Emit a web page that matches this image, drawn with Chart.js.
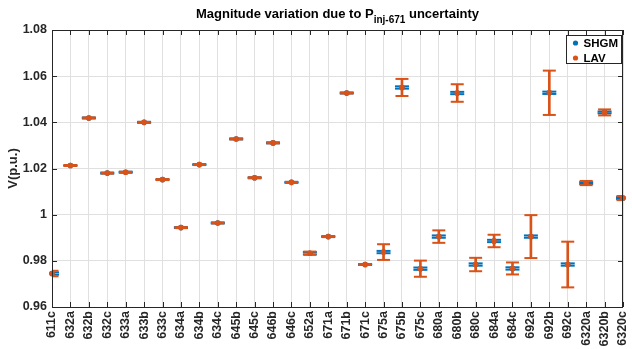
<!DOCTYPE html>
<html>
<head>
<meta charset="utf-8">
<script src="https://cdn.jsdelivr.net/npm/chart.js@4"></script>
<style>
  html, body { margin: 0; padding: 0; background: #fff; }
  #wrap { width: 632px; height: 349px; }
</style>
</head>
<body>
<div id="wrap"><canvas id="chart"></canvas></div>
<script>
const BUSES = ['611c', '632a', '632b', '632c', '633a', '633b', '633c', '634a', '634b', '634c',
    '645b', '645c', '646b', '646c', '652a', '671a', '671b', '671c', '675a', '675b', '675c',
    '680a', '680b', '680c', '684a', '684c', '692a', '692b', '692c', '6320a', '6320b', '6320c'];

// SHGM estimate and its half-width
const SHGM = [0.9745, 1.0213, 1.0419, 1.0180, 1.0184, 1.0400, 1.0152, 0.9944, 1.0217, 0.9964,
    1.0328, 1.0160, 1.0311, 1.0140, 0.9833, 0.9905, 1.0527, 0.9784, 0.9838, 1.0551, 0.9766,
    0.9905, 1.0527, 0.9784, 0.9886, 0.9767, 0.9905, 1.0528, 0.9784, 1.0137, 1.0443, 1.0072];
const SHGM_ERR = [0.0005, 0.0002, 0.0002, 0.0002, 0.0002, 0.0002, 0.0002, 0.0002, 0.0002, 0.0002,
    0.0002, 0.0002, 0.0002, 0.0002, 0.0005, 0.0002, 0.0002, 0.0002, 0.0005, 0.0005, 0.0005,
    0.0005, 0.0005, 0.0005, 0.0005, 0.0005, 0.0005, 0.0005, 0.0005, 0.0004, 0.0004, 0.0004];

// LAV centre and half-width
const LAV = [0.9745, 1.0213, 1.0419, 1.0180, 1.0184, 1.0400, 1.0152, 0.9944, 1.0217, 0.9964,
    1.0328, 1.0160, 1.0311, 1.0140, 0.9833, 0.9905, 1.0527, 0.9784, 0.9838, 1.0551, 0.9766,
    0.9905, 1.0527, 0.9784, 0.9886, 0.9767, 0.9905, 1.0528, 0.9784, 1.0137, 1.0443, 1.0072];
const LAV_ERR = [0.0012, 0.0002, 0.0002, 0.0002, 0.0002, 0.0002, 0.0002, 0.0002, 0.0002, 0.0002,
    0.0002, 0.0002, 0.0002, 0.0002, 0.0007, 0.0002, 0.0002, 0.0002, 0.0034, 0.0037, 0.0035,
    0.0027, 0.0038, 0.0029, 0.0027, 0.0026, 0.0093, 0.0096, 0.0099, 0.0009, 0.0013, 0.0009];

const Y_TICKS = [0.96, 0.98, 1, 1.02, 1.04, 1.06, 1.08];
const Y_TICK_LABELS = ['0.96', '0.98', '1', '1.02', '1.04', '1.06', '1.08'];

const BLUE = '#0072BD';
const ORANGE = '#D95319';
const AXIS = '#262626';
const FONT = '"Liberation Sans", Arial, sans-serif';

const lo = (vals, errs) => vals.map((v, i) => v - errs[i]);
const hi = (vals, errs) => vals.map((v, i) => v + errs[i]);

function capSet(data, color, radius, width, order) {
    return {
        type: 'line', data: data, showLine: false, order: order, clip: 0,
        pointStyle: 'line', pointRadius: radius, pointHoverRadius: radius,
        pointBorderColor: color, pointBorderWidth: width, pointHoverBorderWidth: width
    };
}

// title with subscript, box, inward ticks and the legend
const decor = {
    id: 'decor',
    afterDraw(chart) {
        const ctx = chart.ctx;
        const a = chart.chartArea;
        const x = chart.scales.x, y = chart.scales.y;
        ctx.save();

        ctx.fillStyle = '#000';
        ctx.textBaseline = 'alphabetic';
        const t1 = 'Magnitude variation due to P', t2 = 'inj-671', t3 = ' uncertainty';
        ctx.font = 'bold 13px ' + FONT;
        const w1 = ctx.measureText(t1).width, w3 = ctx.measureText(t3).width;
        ctx.font = 'bold 10px ' + FONT;
        const w2 = ctx.measureText(t2).width;
        let tx = (a.left + a.right) / 2 - (w1 + w2 + w3) / 2;
        ctx.font = 'bold 13px ' + FONT;
        ctx.fillText(t1, tx, 18);
        ctx.font = 'bold 10px ' + FONT;
        ctx.fillText(t2, tx + w1, 23);
        ctx.font = 'bold 13px ' + FONT;
        ctx.fillText(t3, tx + w1 + w2, 18);

        ctx.strokeStyle = AXIS;
        ctx.lineWidth = 1;
        ctx.strokeRect(Math.round(a.left) + 0.5, Math.round(a.top) + 0.5,
            Math.round(a.right - a.left) - 1, Math.round(a.bottom - a.top));
        ctx.beginPath();
        x.ticks.forEach((t, i) => {
            const px = Math.round(x.getPixelForTick(i)) + 0.5;
            ctx.moveTo(px, a.top); ctx.lineTo(px, a.top + 5);
            ctx.moveTo(px, a.bottom); ctx.lineTo(px, a.bottom - 5);
        });
        Y_TICKS.forEach(v => {
            const py = Math.round(y.getPixelForValue(v)) + 0.5;
            ctx.moveTo(a.left, py); ctx.lineTo(a.left + 5, py);
            ctx.moveTo(a.right, py); ctx.lineTo(a.right - 5, py);
        });
        ctx.stroke();

        const lx = Math.round(a.right - 57) + 0.5, ly = Math.round(a.top + 5) + 0.5;
        ctx.fillStyle = '#fff';
        ctx.fillRect(lx, ly, 55, 28);
        ctx.strokeRect(lx, ly, 55, 28);
        const items = [['SHGM', BLUE], ['LAV', ORANGE]];
        ctx.font = 'bold 11.5px ' + FONT;
        ctx.textBaseline = 'middle';
        items.forEach((it, i) => {
            const cy = ly + 7.5 + i * 15;
            ctx.fillStyle = it[1];
            ctx.beginPath();
            ctx.arc(lx + 9, cy, 2.6, 0, Math.PI * 2);
            ctx.fill();
            ctx.fillStyle = '#000';
            ctx.fillText(it[0], lx + 17, cy + 0.5);
        });
        ctx.restore();
    }
};

new Chart(document.getElementById('chart'), {
    type: 'bar',
    data: {
        labels: BUSES,
        datasets: [
            {
                label: 'LAV', type: 'line', data: LAV, showLine: false, order: 0, clip: false,
                pointStyle: 'circle', pointRadius: 2.8, pointHoverRadius: 2.8,
                pointBackgroundColor: ORANGE, pointBorderWidth: 0
            },
            Object.assign(capSet(lo(LAV, LAV_ERR), ORANGE, 6.5, 2, 1), { label: 'LAV low' }),
            Object.assign(capSet(hi(LAV, LAV_ERR), ORANGE, 6.5, 2, 1), { label: 'LAV high' }),
            {
                label: 'LAV range', type: 'bar', order: 2,
                data: LAV.map((v, i) => [v - LAV_ERR[i], v + LAV_ERR[i]]),
                backgroundColor: ORANGE, borderWidth: 0, barThickness: 2
            },
            {
                label: 'SHGM', type: 'line', data: SHGM, showLine: false, order: 3, clip: false,
                pointStyle: 'circle', pointRadius: 2.8, pointHoverRadius: 2.8,
                pointBackgroundColor: BLUE, pointBorderWidth: 0
            },
            Object.assign(capSet(lo(SHGM, SHGM_ERR), BLUE, 7, 2, 4), { label: 'SHGM low' }),
            Object.assign(capSet(hi(SHGM, SHGM_ERR), BLUE, 7, 2, 4), { label: 'SHGM high' })
        ]
    },
    options: {
        responsive: true,
        maintainAspectRatio: false,
        animation: false,
        layout: { padding: { top: 30, right: 8, left: 0, bottom: 0 } },
        plugins: {
            legend: { display: false },
            title: { display: false },
            tooltip: { enabled: false }
        },
        scales: {
            x: {
                type: 'category',
                offset: false,
                grid: { offset: false, color: '#e0e0e0', drawTicks: false },
                border: { display: false },
                ticks: {
                    autoSkip: false, maxRotation: 90, minRotation: 90, padding: 4,
                    color: AXIS, font: { family: FONT, size: 12.5, weight: 'bold' }
                },
                afterFit(scale) {
                    scale.height = 42;
                    scale.paddingLeft = 0;
                    scale.paddingRight = 0;
                }
            },
            y: {
                min: 0.96, max: 1.08,
                grid: { color: '#e0e0e0', drawTicks: false },
                border: { display: false },
                afterBuildTicks(scale) { scale.ticks = Y_TICKS.map(v => ({ value: v })); },
                ticks: {
                    padding: 5, color: AXIS,
                    font: { family: FONT, size: 12.5, weight: 'bold' },
                    callback: (v, i) => Y_TICK_LABELS[i]
                },
                title: {
                    display: true, text: 'V(p.u.)', color: AXIS,
                    font: { family: FONT, size: 13, weight: 'bold' },
                    padding: { top: 6, bottom: 0 }
                },
                afterFit(scale) {
                    scale.width = 52;
                    scale.paddingTop = 0;
                    scale.paddingBottom = 0;
                }
            }
        }
    },
    plugins: [decor]
});
</script>
</body>
</html>
